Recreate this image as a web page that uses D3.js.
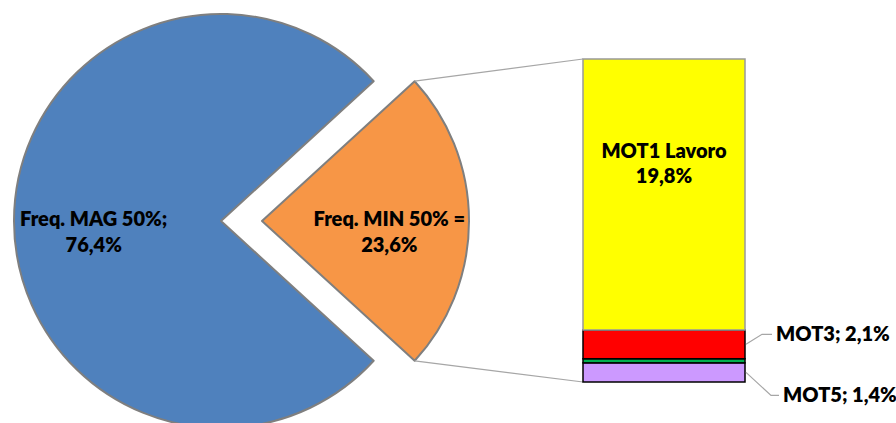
<!DOCTYPE html>
<html>
<head>
<meta charset="utf-8">
<script src="https://cdn.jsdelivr.net/npm/d3@7"></script>
<style>
  body { margin: 0; background: #fff; }
  text { font-family: Lato, 'Open Sans', sans-serif; font-weight: 800; fill: #000; }
</style>
</head>
<body>
<svg id="chart" width="896" height="423"></svg>
<script>
// pie slices (MIN first so it sits on the right, exploded)
const pieLabels = ['Freq. MIN 50% =', 'Freq. MAG 50%;']
const pieValues = [23.6, 76.4]
const pieColors = ['#F79646', '#4F81BD']

// breakdown of the small slice, bottom to top
const barLabels = ['MOT5', 'MOT4', 'MOT3', 'MOT1 Lavoro']
const barValues = [1.4, 0.3, 2.1, 19.8]
const barColors = ['#CC99FF', '#00B050', '#FF0000', '#FFFF00']
const barStrokes = ['#000', '#000', '#000', '#999']
const showBarLabel = ['outside', null, 'outside', 'inside']

const fmt = (v) => v.toFixed(1).replace('.', ',') + '%'

const svg = d3.select('#chart')
const fontSize = 20

const cx = 221
const cy = 221
const radius = 207
const explode = 41

const minShare = pieValues[0] / d3.sum(pieValues)
const pie = d3
  .pie()
  .sort(null)
  .startAngle(Math.PI / 2 - minShare * Math.PI)
  .endAngle(Math.PI / 2 - minShare * Math.PI + 2 * Math.PI)

const arcs = pie(pieValues)
const arc = d3.arc().innerRadius(0).outerRadius(radius)
const labelArc = d3.arc().innerRadius(radius * 0.615).outerRadius(radius * 0.615)

const pieG = svg.append('g').attr('id', 'pie')

const slices = pieG
  .selectAll('g')
  .data(arcs)
  .join('g')
  .attr('transform', (d, i) => `translate(${cx + (i === 0 ? explode : 0)},${cy})`)

slices
  .append('path')
  .attr('d', arc)
  .attr('fill', (d, i) => pieColors[i])
  .attr('stroke', '#7f7f7f')
  .attr('stroke-width', 2)
  .attr('stroke-linejoin', 'round')

slices.each(function (d, i) {
  const [lx, ly] = labelArc.centroid(d)
  const t = d3
    .select(this)
    .append('text')
    .attr('text-anchor', 'middle')
    .attr('font-size', fontSize)
  t.append('tspan').attr('x', lx).attr('y', ly + 5).text(pieLabels[i])
  t.append('tspan').attr('x', lx).attr('y', ly + 31).text(fmt(pieValues[i]))
})

// stacked bar
const barX = 583
const barW = 162
const total = d3.sum(barValues)
const y = d3.scaleLinear().domain([0, total]).range([382, 59])

const stacked = []
let acc = 0
barValues.forEach((v, i) => {
  stacked.push({ i, v, y0: acc, y1: acc + v })
  acc += v
})

// connector lines from the exploded slice to the bar
const sliceCx = cx + explode
const a0 = arcs[0].startAngle
const a1 = arcs[0].endAngle
const p0 = [sliceCx + radius * Math.sin(a0), cy - radius * Math.cos(a0)]
const p1 = [sliceCx + radius * Math.sin(a1), cy - radius * Math.cos(a1)]
svg
  .append('g')
  .attr('id', 'connectors')
  .selectAll('line')
  .data([
    [p0, [barX, y(total)]],
    [p1, [barX, y(0)]],
  ])
  .join('line')
  .attr('x1', (d) => d[0][0])
  .attr('y1', (d) => d[0][1])
  .attr('x2', (d) => d[1][0])
  .attr('y2', (d) => d[1][1])
  .attr('stroke', '#a6a6a6')
  .attr('stroke-width', 1.2)

const barG = svg.append('g').attr('id', 'bar')
barG
  .selectAll('rect')
  .data(stacked)
  .join('rect')
  .attr('x', barX)
  .attr('width', barW)
  .attr('y', (d) => y(d.y1))
  .attr('height', (d) => y(d.y0) - y(d.y1))
  .attr('fill', (d) => barColors[d.i])
  .attr('stroke', (d) => barStrokes[d.i])
  .attr('stroke-width', 1.5)

// labels
stacked.forEach((d) => {
  const mode = showBarLabel[d.i]
  const my = (y(d.y0) + y(d.y1)) / 2
  if (mode === 'inside') {
    const t = barG
      .append('text')
      .attr('text-anchor', 'middle')
      .attr('font-size', fontSize)
    t.append('tspan').attr('x', barX + barW / 2).attr('y', my - 36).text(barLabels[d.i])
    t.append('tspan').attr('x', barX + barW / 2).attr('y', my - 11).text(fmt(d.v))
  } else if (mode === 'outside') {
    // leader goes up for the upper label, down for the lower one
    const up = d.i === 2
    const ex = barX + barW + 1
    const ky = up ? my - 10 : my + 23
    const kx = up ? ex + 16 : ex + 25
    barG
      .append('polyline')
      .attr('points', `${ex},${my} ${kx},${ky} ${kx + (up ? 10 : 8)},${ky}`)
      .attr('fill', 'none')
      .attr('stroke', '#a6a6a6')
      .attr('stroke-width', 1.2)
    barG
      .append('text')
      .attr('x', kx + (up ? 14 : 12))
      .attr('y', ky + 7)
      .attr('font-size', fontSize)
      .text(`${barLabels[d.i]}; ${fmt(d.v)}`)
  }
})
</script>
</body>
</html>
